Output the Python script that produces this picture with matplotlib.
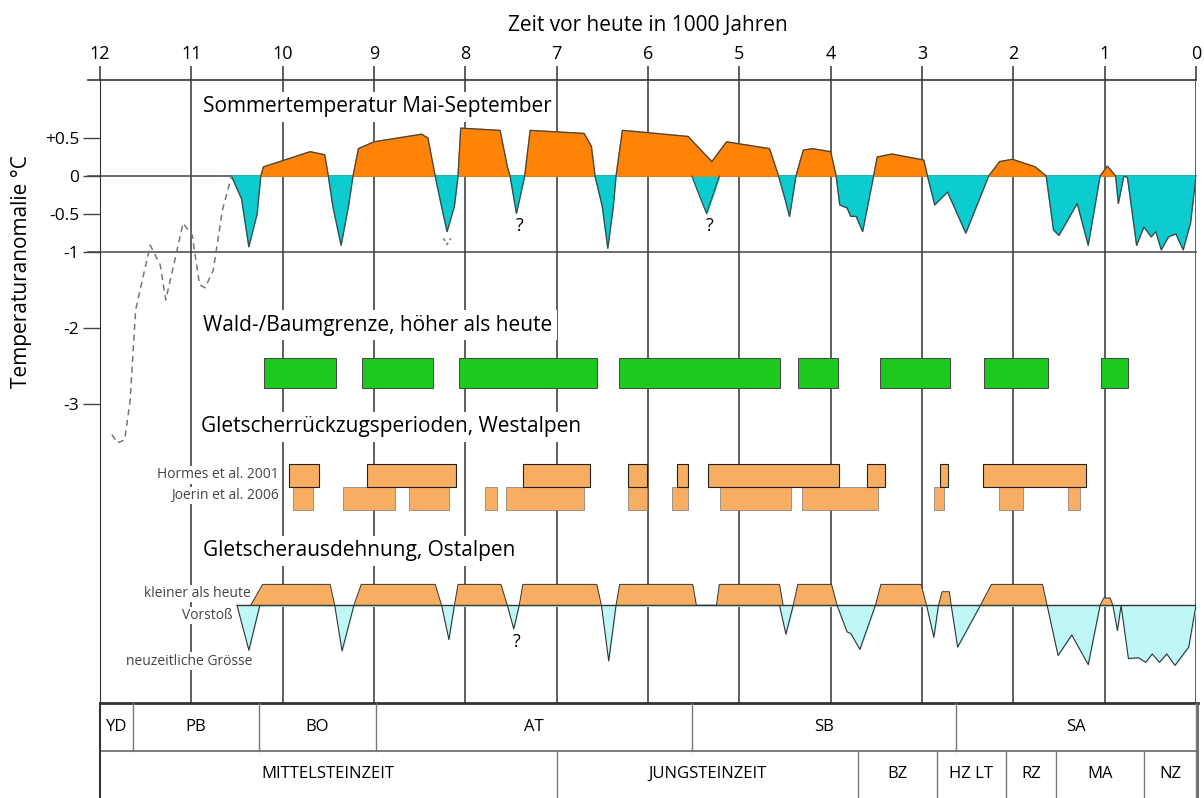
import matplotlib.pyplot as plt
import numpy as np
from matplotlib.patches import Polygon, Rectangle

plt.rcParams['font.family'] = ['Open Sans', 'DejaVu Sans']

# --- Sommertemperatur (ka BP, anomaly degC)
temp_ka = [10.56, 10.45, 10.37, 10.28, 10.24, 10.21, 9.70, 9.54, 9.50, 9.45, 9.36, 9.28, 9.23, 9.17, 9.00,
           8.48, 8.41, 8.33, 8.26, 8.20, 8.12, 8.08, 8.05, 7.62, 7.54, 7.51, 7.44, 7.35, 7.29, 6.70,
           6.62, 6.58, 6.50, 6.44, 6.38, 6.35, 6.28, 6.09, 5.56, 5.46, 5.30, 5.14, 4.67, 4.57, 4.50,
           4.45, 4.38, 4.30, 4.20, 4.00, 3.94, 3.90, 3.82, 3.78, 3.72, 3.65, 3.53, 3.49, 3.33, 2.98,
           2.94, 2.86, 2.72, 2.52, 2.27, 2.15, 2.01, 1.76, 1.64, 1.56, 1.50, 1.30, 1.18, 1.05, 0.97,
           0.88, 0.85, 0.79, 0.75, 0.65, 0.57, 0.49, 0.44, 0.38, 0.30, 0.22, 0.14, 0.06, 0.0]
temp_val = [0, -0.3, -0.93, -0.5, 0, 0.12, 0.32, 0.28, 0, -0.4, -0.91, -0.4, 0, 0.36, 0.45,
            0.55, 0.50, 0, -0.4, -0.73, -0.4, 0, 0.63, 0.60, 0.12, 0, -0.49, 0, 0.60, 0.56,
            0.39, 0, -0.4, -0.95, -0.4, 0, 0.60, 0.58, 0.52, 0.39, 0.19, 0.45, 0.36, 0, -0.3,
            -0.53, 0, 0.34, 0.36, 0.32, 0, -0.38, -0.42, -0.53, -0.53, -0.73, 0, 0.25, 0.29, 0.21,
            0, -0.38, -0.21, -0.75, 0, 0.19, 0.22, 0.12, 0, -0.71, -0.78, -0.36, -0.91, 0, 0.13,
            0, -0.36, 0, -0.02, -0.91, -0.67, -0.80, -0.73, -0.97, -0.80, -0.76, -0.97, -0.62, 0]
q_ka = [5.52, 5.44, 5.36, 5.29, 5.22]
q_val = [0, -0.25, -0.49, -0.25, 0]
# Spaetglazial, gestrichelt
late_ka = [11.87, 11.81, 11.73, 11.67, 11.61, 11.45, 11.34, 11.28, 11.18, 11.09, 10.99, 10.91, 10.85,
           10.76, 10.66, 10.56]
late_val = [-3.4, -3.51, -3.47, -2.95, -1.76, -0.91, -1.17, -1.63, -1.1, -0.62, -0.78, -1.43, -1.47,
            -1.24, -0.45, 0]

# --- Wald-/Baumgrenze (start, end in ka)
forest = [(10.20, 9.42), (9.13, 8.35), (8.07, 6.56), (6.32, 4.55), (4.36, 3.92), (3.46, 2.69),
          (2.32, 1.62), (1.04, 0.74)]

# --- Gletscherrueckzug Westalpen
hormes = [(9.93, 9.60), (9.08, 8.10), (7.37, 6.64), (6.22, 6.01), (5.68, 5.56), (5.34, 3.91),
          (3.60, 3.41), (2.80, 2.72), (2.33, 1.20)]
joerin = [(9.89, 9.67), (9.34, 8.77), (8.62, 8.18), (7.78, 7.65), (7.55, 6.70), (6.22, 6.01),
          (5.74, 5.56), (5.21, 4.43), (4.31, 3.48), (2.87, 2.76), (2.16, 1.89), (1.40, 1.27)]

# --- Gletscherausdehnung Ostalpen: kleiner als heute (trapezoids: foot, top, top, foot)
small = [(10.35, 10.22, 9.48, 9.43), (9.22, 9.14, 8.33, 8.26), (8.12, 8.08, 7.61, 7.54),
         (7.41, 7.37, 6.56, 6.51), (6.35, 6.31, 5.51, 5.47), (5.25, 5.22, 4.56, 4.52),
         (4.41, 4.36, 3.99, 3.93), (3.51, 3.45, 3.01, 2.95), (2.82, 2.78, 2.70, 2.68),
         (2.36, 2.24, 1.68, 1.63), (1.05, 1.01, 0.94, 0.91)]
small_h = [1, 1, 1, 1, 1, 1, 1, 1, 0.65, 1, 0.35]
adv_ka = [10.50, 10.37, 10.25, 9.43, 9.35, 9.22, 8.26, 8.18, 8.12, 7.54, 7.47, 7.41, 6.51, 6.43, 6.35,
          4.56, 4.49, 4.41, 3.93, 3.82, 3.78, 3.68, 3.51, 2.95, 2.87, 2.82, 2.68, 2.61, 2.36, 1.63,
          1.51, 1.36, 1.18, 1.05, 0.91, 0.86, 0.82, 0.74, 0.63, 0.55, 0.48, 0.40, 0.32, 0.23, 0.08, 0.0]
adv_val = [0, -0.59, 0, 0, -0.60, 0, 0, -0.45, 0, 0, -0.31, 0, 0, -0.73, 0,
           0, -0.38, 0, 0, -0.35, -0.37, -0.58, 0, 0, -0.42, 0, 0, -0.55, 0, 0,
           -0.66, -0.39, -0.78, 0, 0, -0.33, 0, -0.70, -0.69, -0.75, -0.64, -0.75, -0.64, -0.79, -0.55, 0]

# --- Chronozonen / Kulturstufen
zones = [(12.0, 11.64, 'YD'), (11.64, 10.26, 'PB'), (10.26, 8.98, 'BO'), (8.98, 5.52, 'AT'),
         (5.52, 2.63, 'SB'), (2.63, 0.0, 'SA')]
cultures = [(12.0, 7.0, 'MITTELSTEINZEIT'), (7.0, 3.70, 'JUNGSTEINZEIT'), (3.70, 2.84, 'BZ'),
            (2.84, 2.08, 'HZ LT'), (2.08, 1.53, 'RZ'), (1.53, 0.57, 'MA'), (0.57, 0.0, 'NZ')]

ORANGE = '#ff8307'
CYAN = '#0ccccf'
GREEN = '#1ec81e'
LORANGE = '#f7ad62'
LCYAN = '#bff7f7'
EDGE = '#444444'

fig = plt.figure(figsize=(12.04, 7.98), dpi=100)
ax = fig.add_axes([100/1204, 95/798, 1096/1204, 623/798])
ax.set_xlim(12, 0)
ax.set_ylim(-6.93, 1.263)

for k in range(0, 13):
    ax.axvline(k, color='#333333', lw=1.1, zorder=0)
for yv in [0, -1]:
    ax.plot([12.13, 0], [yv, yv], color='#444444', lw=1.1, clip_on=False, zorder=1)
ax.plot([12.13, 0], [1.263, 1.263], color='#444444', lw=1.3, clip_on=False, zorder=1)

# temperature
tk = np.array(temp_ka)
tv = np.array(temp_val)
ax.fill_between(q_ka, q_val, 0, color=CYAN, zorder=2)
ax.plot(q_ka, q_val, color=EDGE, lw=0.8, zorder=3)
ax.fill_between(tk, tv, 0, where=tv >= 0, interpolate=True, color=ORANGE, zorder=2)
ax.fill_between(tk, tv, 0, where=tv <= 0, interpolate=True, color=CYAN, zorder=2)
ax.plot(tk, tv, color=EDGE, lw=0.9, zorder=3)
ax.plot(late_ka, late_val, color='#777777', lw=1.1, ls=(0, (4, 3)), zorder=3)
ax.plot([8.24, 8.20, 8.16], [-0.82, -0.9, -0.82], color='#777777', lw=1.1, ls=(0, (2, 2)), zorder=3)
ax.text(7.41, -0.66, '?', fontsize=13, ha='center', va='center')
ax.text(5.33, -0.66, '?', fontsize=13, ha='center', va='center')

# forest
for a, b in forest:
    ax.add_patch(Rectangle((b, -2.79), a - b, 0.40, facecolor=GREEN, edgecolor=EDGE, lw=0.7, zorder=2))

# west alps
for a, b in hormes:
    ax.add_patch(Rectangle((b, -4.09), a - b, 0.30, facecolor=LORANGE, edgecolor='#222222', lw=0.8, zorder=3))
for a, b in joerin:
    ax.add_patch(Rectangle((b, -4.39), a - b, 0.30, facecolor=LORANGE, edgecolor='#777777', lw=0.5, zorder=2))

# east alps
base = -5.645
ak = np.array(adv_ka)
av = base + np.array(adv_val)
ax.fill_between(ak, av, base, color=LCYAN, zorder=2)
ax.plot(ak, av, color='#333333', lw=0.8, zorder=3)
ax.plot([10.5, 0], [base, base], color='#333333', lw=1.0, zorder=3)
for (f1, t1, t2, f2), h in zip(small, small_h):
    top = base + 0.275 * h
    ax.add_patch(Polygon([(f1, base), (t1, top), (t2, top), (f2, base)], closed=True,
                         facecolor=LORANGE, edgecolor='#333333', lw=0.7, zorder=4))
ax.text(7.44, -6.13, '?', fontsize=13, ha='center', va='center')

# section titles
tb = dict(facecolor='white', edgecolor='none', pad=3)
ax.text(10.87, 0.91, 'Sommertemperatur Mai-September', fontsize=15, va='center', bbox=tb, zorder=5)
ax.text(10.87, -1.96, 'Wald-/Baumgrenze, höher als heute', fontsize=15, va='center', bbox=tb, zorder=5)
ax.text(10.89, -3.30, 'Gletscherrückzugsperioden, Westalpen', fontsize=15, va='center', bbox=tb, zorder=5)
ax.text(10.87, -4.93, 'Gletscherausdehnung, Ostalpen', fontsize=15, va='center', bbox=tb, zorder=5)

sb = dict(facecolor='white', edgecolor='none', pad=1)
small_kw = dict(fontsize=10, color='#444444', ha='right', va='center', bbox=sb, zorder=5)
ax.text(10.04, -3.93, 'Hormes et al. 2001', **small_kw)
ax.text(10.04, -4.20, 'Joerin et al. 2006', **small_kw)
ax.text(10.35, -5.49, 'kleiner als heute', **small_kw)
ax.text(10.55, -5.78, 'Vorstoß', **small_kw)
ax.text(10.33, -6.38, 'neuzeitliche Grösse', **small_kw)

# axes styling
ax.xaxis.tick_top()
ax.set_xticks(range(12, -1, -1))
ax.tick_params(axis='x', length=10, width=1.1, labelsize=13, pad=2, color='#333333')
ax.set_yticks([0.5, 0, -0.5, -1, -2, -3])
ax.set_yticklabels(['+0.5', '0', '-0.5', '-1', '-2', '-3'])
ax.tick_params(axis='y', length=12, width=1.0, labelsize=12.5, pad=3, color='#444444')
for s in ['top', 'right', 'bottom']:
    ax.spines[s].set_visible(False)
ax.spines['left'].set_color('#333333')
ax.set_xlabel('Zeit vor heute in 1000 Jahren', fontsize=15, labelpad=10)
ax.xaxis.set_label_position('top')
fig.text(22/1204, 1 - 272/798, 'Temperaturanomalie °C', fontsize=15, rotation=90, ha='center', va='center')

# table below
tab = fig.add_axes([100/1204, 0, 1098/1204, 95/798])
tab.set_xlim(12, -0.02)
tab.set_ylim(0, 2)
tab.axis('off')
tab.plot([12, -0.02], [2, 2], color='#333333', lw=2, clip_on=False)
tab.plot([12, -0.02], [1, 1], color='#666666', lw=1.2)
tab.plot([12, 12], [0, 2], color='#333333', lw=1.5, clip_on=False)
tab.plot([-0.02, -0.02], [0, 2], color='#555555', lw=1.2, clip_on=False)
for a, b, name in zones:
    tab.plot([b, b], [1, 2], color='#777777', lw=1)
    tab.text((a + b) / 2, 1.5, name, fontsize=12, ha='center', va='center')
for a, b, name in cultures:
    tab.plot([b, b], [0, 1], color='#777777', lw=1)
    tab.text((a + b) / 2, 0.5, name, fontsize=12, ha='center', va='center')

fig.savefig('out.png', dpi=100)
